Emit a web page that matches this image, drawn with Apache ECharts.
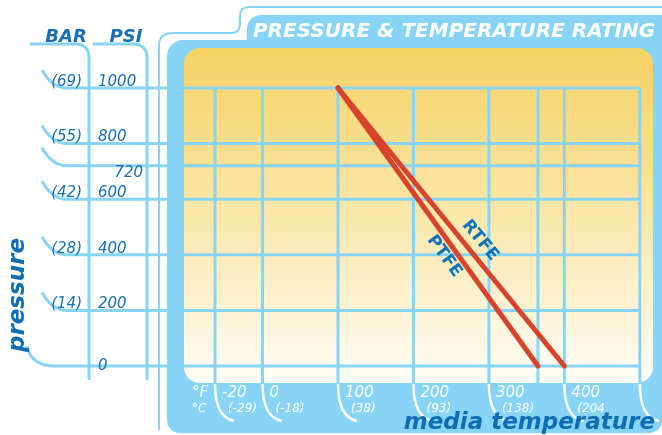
<!DOCTYPE html>
<html><head><meta charset="utf-8">
<script src="https://cdn.jsdelivr.net/npm/echarts@6/dist/echarts.min.js"></script>
<style>html,body{margin:0;padding:0;background:#fff}#c{width:662px;height:435px}</style>
</head><body><div id="c"></div>
<script>
// ---- data ----
const psiTicks = [1000, 800, 720, 600, 400, 200, 0];
const psiLabels = ['1000', '800', '720', '600', '400', '200', '0'];
const barLabels = ['(69)', '(55)', '', '(42)', '(28)', '(14)', ''];
const tempGridF = [-20, 0, 100, 200, 300, 365, 400, 500];
const hookTemps = [-20, 0, 100, 200, 300, 400, 500];
const tempTicksF = [-20, 0, 100, 200, 300, 400];
const tempLabelsF = ['-20', '0', '100', '200', '300', '400'];
const tempLabelsC = ['(-29)', '(-18)', '(38)', '(93)', '(138)', '(204'];
const ptfeTemp = [100, 365];
const ptfePsi = [1000, 0];
const rtfeTemp = [100, 400];
const rtfePsi = [1000, 0];
const lineNames = ['PTFE', 'RTFE'];

// ---- style ----
const LB = '#88D4F6';
const DB = '#1A70B6';
const RED = '#D8432C';
const FONT = '"DejaVu Sans", Verdana, sans-serif';
const PANEL_BOTTOM = 383;

const chart = echarts.init(document.getElementById('c'));

function txt(text, x, y, align, font, fill, extra) {
  return Object.assign({
    type: 'text',
    style: { text, x, y, textAlign: align, align, textVerticalAlign: 'middle', verticalAlign: 'middle', font, fill }
  }, extra || {});
}
function seg(x1, y1, x2, y2, color, w) {
  return { type: 'line', z: 1, shape: { x1, y1, x2, y2 }, style: { stroke: color, lineWidth: w, fill: null } };
}
function crv(x1, y1, cx, cy, x2, y2, color, w) {
  return { type: 'bezierCurve', z: 1, shape: { x1, y1, cpx1: cx, cpy1: cy, x2, y2 }, style: { stroke: color, lineWidth: w, fill: null } };
}

function renderRow(params, api) {
  const p = api.value(1);
  const idx = api.value(2);
  const end = api.coord([500, p]);
  const y = end[1], xr = end[0];
  const zero = p === 0;
  const sx = zero ? 27 : 42, ex = zero ? 55 : 67, cx = zero ? 31 : 52;
  const children = [
    crv(sx, y - (zero ? 20 : 18), cx, y, ex, y, LB, 3),
    seg(ex, y, xr, y, LB, 3)
  ];
  const below = p === 720;
  const ly = zero ? y : (below ? y + 7 : y - 6);
  children.push(txt(psiLabels[idx], below ? 143 : 98, ly, below ? 'right' : 'left', 'italic 15px ' + FONT, DB));
  if (barLabels[idx]) children.push(txt(barLabels[idx], 82, y - 6, 'right', 'italic 15px ' + FONT, DB));
  return { type: 'group', children };
}

function renderCol(params, api) {
  const t = api.value(0);
  const top = api.coord([t, 1000]);
  const x = top[0];
  const children = [seg(x, top[1], x, PANEL_BOTTOM, LB, 3)];
  if (hookTemps.indexOf(t) >= 0) children.push(crv(x, PANEL_BOTTOM + 1, x, 417, x + 19, 421, '#fff', 2.5));
  const k = tempTicksF.indexOf(t);
  if (k >= 0) {
    children.push(txt(tempLabelsF[k], x + 7, 393, 'left', 'italic 15px ' + FONT, '#fff'));
    children.push(txt(tempLabelsC[k], x + 13, 409, 'left', 'italic 12px ' + FONT, '#fff'));
  }
  return { type: 'group', children };
}

const lines = [[ptfeTemp, ptfePsi], [rtfeTemp, rtfePsi]];
const F = 0.58;
const labelData = lines.map((l, i) => [l[0][0] + (l[0][1] - l[0][0]) * F, l[1][0] + (l[1][1] - l[1][0]) * F, i]);

function renderLineLabel(params, api) {
  const i = api.value(2);
  const l = lines[i];
  const a0 = api.coord([l[0][0], l[1][0]]);
  const a1 = api.coord([l[0][1], l[1][1]]);
  const ang = Math.atan2(a1[1] - a0[1], a1[0] - a0[0]);
  const pt = api.coord([api.value(0), api.value(1)]);
  const off = i === 1 ? 14 : -12;
  const nx = Math.sin(ang), ny = -Math.cos(ang);
  return {
    type: 'text',
    x: pt[0] + nx * off, y: pt[1] + ny * off,
    rotation: -ang,
    style: { text: lineNames[i], x: 0, y: 0, textAlign: 'center', align: 'center', textVerticalAlign: 'middle', verticalAlign: 'middle', font: 'bold 17px ' + FONT, fill: '#1173BB' }
  };
}

function gtext(text, x, y, align, font, fill, rot) {
  return { type: 'text', z: 10, x, y, rotation: rot || 0, style: { text, textAlign: align, align, textVerticalAlign: 'middle', verticalAlign: 'middle', fill, font } };
}

const deco = [
  // thin outline
  seg(159, 430, 159, 46, LB, 2), crv(159, 46, 159, 33, 172, 33, LB, 2), seg(172, 33, 231, 33, LB, 2),
  crv(231, 33, 240, 33, 240, 24, LB, 2), seg(240, 24, 240, 16, LB, 2), crv(240, 16, 240, 7, 249, 7, LB, 2),
  seg(249, 7, 662, 7, LB, 2),
  // thick blue frame
  { type: 'rect', z: 0, shape: { x: 167, y: 40, width: 495, height: 393, r: [16, 0, 13, 13] }, style: { fill: LB } },
  { type: 'rect', z: 0, shape: { x: 247, y: 15, width: 415, height: 40, r: [14, 0, 0, 0] }, style: { fill: LB } },
  // inner panel
  { type: 'rect', z: 0, shape: { x: 184, y: 48, width: 469, height: PANEL_BOTTOM - 48, r: 16 },
    style: { fill: { type: 'linear', x: 0, y: 0, x2: 0, y2: 1, colorStops: [
      { offset: 0, color: '#F6D263' }, { offset: 0.45, color: '#FAE5A3' }, { offset: 1, color: '#FFFDF6' }] } } },
  // BAR / PSI headers
  seg(30, 44, 75, 44, LB, 3), crv(75, 44, 89, 44, 89, 58, LB, 3), seg(89, 58, 89, 380, LB, 3),
  seg(93, 44, 133, 44, LB, 3), crv(133, 44, 147, 44, 147, 58, LB, 3), seg(147, 58, 147, 380, LB, 3),
  // texts
  gtext('PRESSURE & TEMPERATURE RATING', 454, 32, 'center', 'italic bold 20px ' + FONT, '#fff'),
  gtext('BAR', 66, 37, 'center', 'italic bold 18px ' + FONT, DB),
  gtext('PSI', 126, 37, 'center', 'italic bold 18px ' + FONT, DB),
  gtext('pressure', 18, 295, 'center', 'italic bold 23px ' + FONT, '#0E6DB4', Math.PI / 2),
  gtext('media temperature', 655, 423, 'right', 'italic bold 23px ' + FONT, '#0E6DB4'),
  gtext('°F', 192, 393, 'left', 'italic 15px ' + FONT, '#fff'),
  gtext('°C', 192, 409, 'left', 'italic 12px ' + FONT, '#fff')
];

chart.setOption({
  animation: false,
  grid: { left: 187.1, right: 7.1, top: 88, bottom: 69 },
  xAxis: {
    type: 'value', min: -57, max: 520, show: false, splitLine: { show: false },
    // the printed chart stretches the -20..0 °F span
    breaks: [{ start: -20, end: 0, gap: 63 }],
    breakArea: { show: false }
  },
  yAxis: { type: 'value', min: 0, max: 1000, show: false, splitLine: { show: false } },
  graphic: deco,
  series: [
    { type: 'custom', coordinateSystem: 'cartesian2d', silent: true, z: 3, data: tempGridF.map(t => [t, 1000]), encode: { x: 0, y: 1 }, renderItem: renderCol },
    { type: 'custom', coordinateSystem: 'cartesian2d', silent: true, z: 3, data: psiTicks.map((p, i) => [500, p, i]), encode: { x: 0, y: 1 }, renderItem: renderRow },
    { type: 'line', name: 'PTFE', z: 5, clip: false, symbol: 'none', data: ptfeTemp.map((t, i) => [t, ptfePsi[i]]), lineStyle: { color: RED, width: 5, cap: 'round' } },
    { type: 'line', name: 'RTFE', z: 5, clip: false, symbol: 'none', data: rtfeTemp.map((t, i) => [t, rtfePsi[i]]), lineStyle: { color: RED, width: 5, cap: 'round' } },
    { type: 'custom', coordinateSystem: 'cartesian2d', silent: true, z: 6, data: labelData, encode: { x: 0, y: 1 }, renderItem: renderLineLabel }
  ]
});
</script>
</body></html>
